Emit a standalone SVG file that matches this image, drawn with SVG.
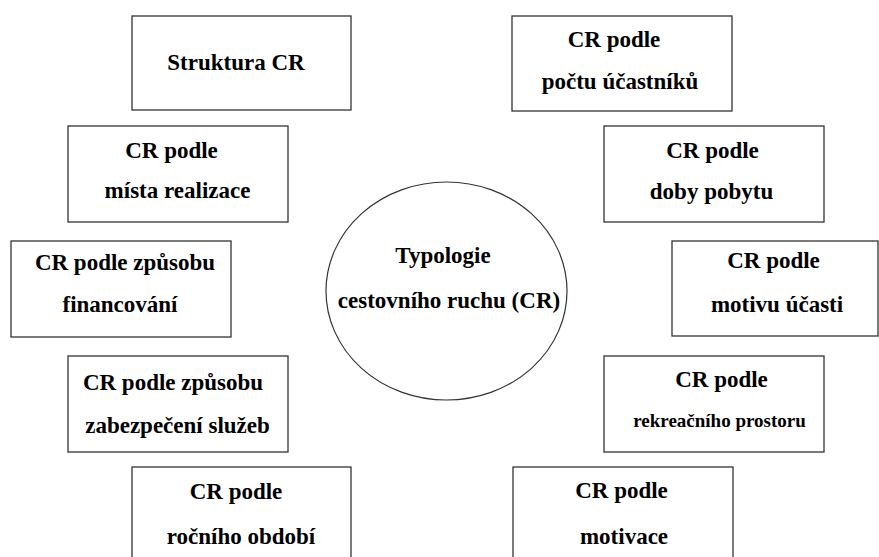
<svg xmlns="http://www.w3.org/2000/svg" width="879" height="557" viewBox="0 0 879 557">
<style>
.box{fill:#fff;stroke:#333;stroke-width:1.3}
.t{font-family:"Liberation Serif","Tinos","Times New Roman","DejaVu Serif",serif;font-weight:bold;font-size:23px;fill:#000;text-anchor:middle}
.s{font-size:19px}
</style>
<rect width="879" height="557" fill="#fff"/>
<g id="connectors"></g>
<g id="center">
<ellipse cx="446.5" cy="291" rx="120.5" ry="109" fill="#fff" stroke="#333" stroke-width="1.2"/>
<text class="t" x="443" y="263">Typologie</text>
<text class="t" x="449" y="308">cestovního ruchu (CR)</text>
</g>
<g id="struktura">
<rect class="box" x="132" y="16" width="219" height="94"/>
<text class="t" x="236" y="70">Struktura CR</text>
</g>
<g id="mista">
<rect class="box" x="68" y="126" width="220" height="96"/>
<text class="t" x="171.5" y="158">CR podle</text>
<text class="t" x="177.5" y="198">místa realizace</text>
</g>
<g id="financovani">
<rect class="box" x="11" y="241" width="220" height="96"/>
<text class="t" x="125" y="270">CR podle způsobu</text>
<text class="t" x="120" y="312">financování</text>
</g>
<g id="sluzeb">
<rect class="box" x="68" y="356" width="220" height="96"/>
<text class="t" x="173" y="390">CR podle způsobu</text>
<text class="t" x="177.5" y="433">zabezpečení služeb</text>
</g>
<g id="obdobi">
<rect class="box" x="132" y="467" width="219" height="100"/>
<text class="t" x="236" y="499">CR podle</text>
<text class="t" x="241" y="544">ročního období</text>
</g>
<g id="ucastniku">
<rect class="box" x="512" y="16" width="220" height="95"/>
<text class="t" x="614" y="47">CR podle</text>
<text class="t" x="620" y="89">počtu účastníků</text>
</g>
<g id="pobytu">
<rect class="box" x="604" y="126" width="220" height="96"/>
<text class="t" x="712.5" y="158">CR podle</text>
<text class="t" x="711.5" y="199">doby pobytu</text>
</g>
<g id="motivu">
<rect class="box" x="672" y="241" width="206" height="95"/>
<text class="t" x="773.5" y="268">CR podle</text>
<text class="t" x="777" y="312">motivu účasti</text>
</g>
<g id="prostoru">
<rect class="box" x="604" y="356" width="220" height="96"/>
<text class="t" x="721.5" y="387">CR podle</text>
<text class="t s" x="719.5" y="427">rekreačního prostoru</text>
</g>
<g id="motivace">
<rect class="box" x="513" y="467" width="220" height="100"/>
<text class="t" x="621.5" y="498">CR podle</text>
<text class="t" x="624" y="544">motivace</text>
</g>
</svg>
